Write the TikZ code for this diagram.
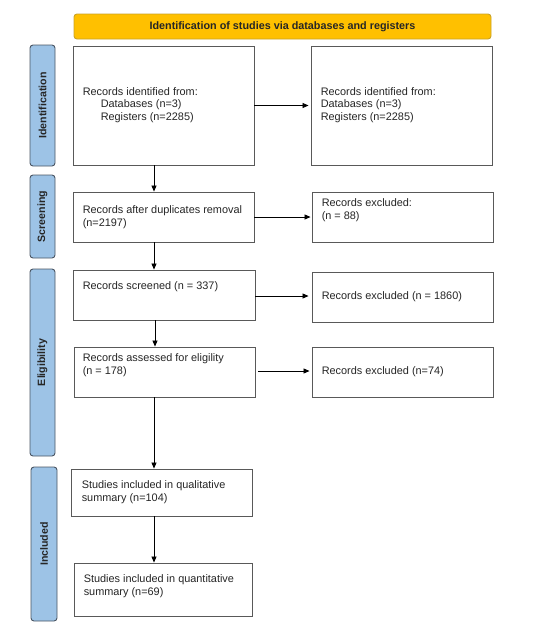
\documentclass[tikz,border=0pt]{standalone}
\usepackage{fontspec}
\setmainfont{Liberation Sans}
\usetikzlibrary{arrows.meta}
\definecolor{hdrfill}{HTML}{FFC000}
\definecolor{hdrdraw}{HTML}{C9A227}
\definecolor{barfill}{HTML}{9DC3E6}
\definecolor{bardraw}{HTML}{4A5563}
\definecolor{boxdraw}{HTML}{595959}
\definecolor{txt}{HTML}{262626}
\begin{document}
\begin{tikzpicture}[x=1pt,y=-1pt,
  box/.style={draw=boxdraw,line width=0.9pt,fill=white,inner sep=0pt},
  bar/.style={draw=bardraw,fill=barfill,line width=0.9pt,rounded corners=3pt,inner sep=0pt},
  hdr/.style={draw=hdrdraw,fill=hdrfill,line width=0.9pt,rounded corners=3pt,inner sep=0pt,
    font=\fontsize{10.8}{12}\selectfont\bfseries,text=txt},
  bartxt/.style={rotate=90,font=\fontsize{10.6}{12}\selectfont\bfseries,text=txt},
  tx/.style={font=\fontsize{10.9}{12.7}\selectfont,text=txt,align=left,inner sep=0pt},
  arr/.style={-{Triangle[length=6pt,width=5pt]},line width=0.8pt,black}]
\useasboundingbox (0,0) rectangle (549,625);
% header
\node[hdr,minimum width=417pt,minimum height=25pt] (hdr) at (282.5,26.5) {Identification of studies via databases and registers};
% side bars
\node[bar,minimum width=25pt,minimum height=121pt] (b1) at (42.5,105.5) {};
\node[bartxt] (b1t) at (b1.center) {Identification};
\node[bar,minimum width=25pt,minimum height=83pt] (b2) at (42.5,216.5) {};
\node[bartxt] (b2t) at (b2.center) {Screening};
\node[bar,minimum width=25pt,minimum height=187pt] (b3) at (42.5,362.5) {};
\node[bartxt] (b3t) at (b3.center) {Eligibility};
\node[bar,minimum width=26pt,minimum height=154pt] (b4) at (44,544) {};
\node[bartxt] (b4t) at (b4.center) {Included};
% boxes
\node[box,minimum width=181pt,minimum height=119pt] (n1) at (163.5,105.5) {};
\node[tx,anchor=west] (n1t) at ([xshift=10pt,yshift=0.5pt]n1.west) {Records identified from:\\\hspace{18pt}Databases (n=3)\\\hspace{18pt}Registers (n=2285)};
\node[box,minimum width=181pt,minimum height=119pt] (n2) at (401.5,105.5) {};
\node[tx,anchor=west] (n2t) at ([xshift=10pt,yshift=0.5pt]n2.west) {Records identified from:\\Databases (n=3)\\Registers (n=2285)};
\node[box,minimum width=181pt,minimum height=50pt] (n3) at (163.5,217) {};
\node[tx,anchor=west] (n3t) at ([xshift=10pt]n3.west) {Records after duplicates removal\\(n=2197)};
\node[box,minimum width=181pt,minimum height=50pt] (n4) at (402.5,217) {};
\node[tx,anchor=north west] (n4t) at ([xshift=10pt,yshift=-7pt]n4.north west) {Records excluded:\\(n = 88)};
\node[box,minimum width=182pt,minimum height=50pt] (n5) at (164,295) {};
\node[tx,anchor=north west] (n5t) at ([xshift=10pt,yshift=-12pt]n5.north west) {Records screened (n = 337)};
\node[box,minimum width=181pt,minimum height=50pt] (n6) at (402.5,297) {};
\node[tx,anchor=west] (n6t) at ([xshift=10pt]n6.west) {Records excluded (n = 1860)};
\node[box,minimum width=181pt,minimum height=50pt] (n7) at (164.5,372) {};
\node[tx,anchor=north west] (n7t) at ([xshift=9pt,yshift=-7pt]n7.north west) {Records assessed for eligility\\(n = 178)};
\node[box,minimum width=181pt,minimum height=50pt] (n8) at (402.5,372) {};
\node[tx,anchor=west] (n8t) at ([xshift=10pt]n8.west) {Records excluded (n=74)};
\node[box,minimum width=181pt,minimum height=47pt] (n9) at (161.5,492.5) {};
\node[tx,anchor=west] (n9t) at ([xshift=11pt]n9.west) {Studies included in qualitative\\summary (n=104)};
\node[box,minimum width=178pt,minimum height=53pt] (n10) at (163,589.5) {};
\node[tx,anchor=west] (n10t) at ([xshift=10pt,yshift=3pt]n10.west) {Studies included in quantitative\\summary (n=69)};
% arrows
\draw[arr] (n1.east) -- ([xshift=-2pt]n2.west);
\draw[arr] (n1.south -| 154,0) -- (n3.north -| 154,0);
\draw[arr] (n3.east) -- ([xshift=-1pt]n4.west);
\draw[arr] (n3.south -| 154,0) -- (n5.north -| 154,0);
\draw[arr] (n5.east |- 0,296) -- ([xshift=-3pt]n6.west |- 0,296);
\draw[arr] (n5.south -| 155,0) -- (n7.north -| 155,0);
\draw[arr] ([xshift=3pt,yshift=1pt]n7.east) -- ([xshift=-2pt,yshift=1pt]n8.west);
\draw[arr] (n7.south -| 154,0) -- (n9.north -| 154,0);
\draw[arr] (n9.south -| 154,0) -- (n10.north -| 154,0);
\end{tikzpicture}
\end{document}
